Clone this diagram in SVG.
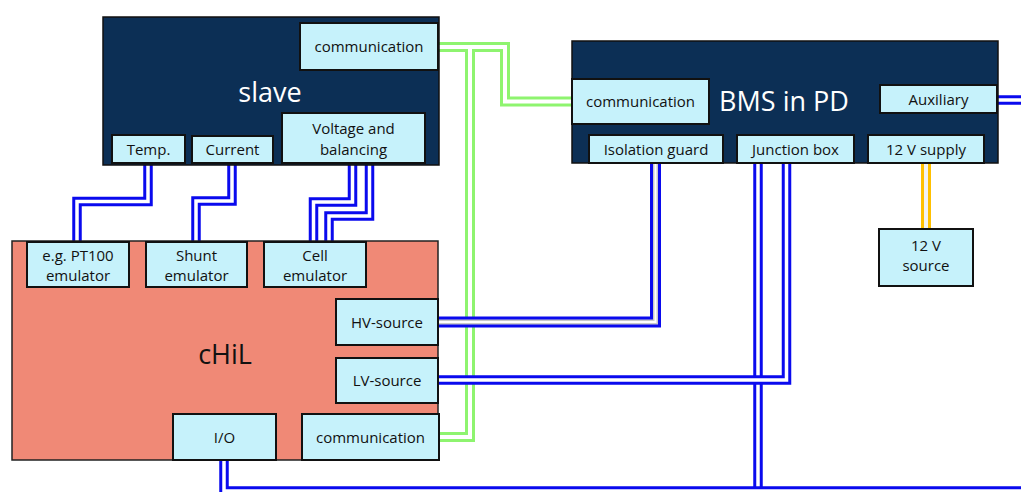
<svg xmlns="http://www.w3.org/2000/svg" xmlns:xlink="http://www.w3.org/1999/xlink" width="1021" height="492" viewBox="0 0 1021 492">
  <style>
    text { font-family: "Open Sans", "Noto Sans", "Liberation Sans", sans-serif; fill: #111; text-anchor: middle; }
    .lbl { font-size: 15px; }
    .big { font-size: 27px; }
    .big-w { fill: #ffffff; }
    .big-d { fill: #111; }
    .host { fill: #0c2f55; stroke: #111; stroke-width: 1.5; }
    .chil { fill: #f08976; stroke: #222; stroke-width: 1.5; }
    .port { fill: #c6f2fb; stroke: #111; stroke-width: 2; }
    .wire { fill: none; stroke-linejoin: miter; stroke-linecap: butt; }
    .blue-o { stroke: #0a0aee; stroke-width: 9.5; }
    .blue-i { stroke: #ffffff; stroke-width: 3.5; }
    .hv-o { stroke: #0a0aee; stroke-width: 11; }
    .hv-m { stroke: #c9c9c9; stroke-width: 5; }
    .hv-i { stroke: #ffffff; stroke-width: 2; }
    .green-o { stroke: #8ef46f; stroke-width: 10; }
    .green-i { stroke: #ffffff; stroke-width: 4; }
    .amber-o { stroke: #ffc000; stroke-width: 10; }
    .amber-i { stroke: #f2f2f2; stroke-width: 4; }
  </style>
  <defs>
    <path id="w-temp" d="M148,160 V201.5 H77 V243"/>
    <path id="w-curr" d="M232,160 V201 H196 V243"/>
    <path id="w-volt-a" d="M352.5,160 V202 H313.5 V243"/>
    <path id="w-volt-b" d="M369.5,160 V216 H329 V243"/>
    <path id="w-com-bms" d="M437,47 H505 V101.5 H573"/>
    <path id="w-com-chil" d="M437,47 H470 V437 H438"/>
    <path id="w-hv" d="M437,322 H655.5 V162"/>
    <path id="w-lv" d="M437,380 H786.5 V160"/>
    <path id="w-io" d="M224,459 V491 H1030"/>
    <path id="w-jb" d="M758,160 V500"/>
    <path id="w-aux" d="M996,100 H1030"/>
    <path id="w-12v" d="M926,162 V230"/>
  </defs>

  <!-- cabling -->
  <g id="connectors">
    <g id="bus-communication">
      <use xlink:href="#w-com-bms" class="wire green-o"/>
      <use xlink:href="#w-com-chil" class="wire green-o"/>
      <use xlink:href="#w-com-bms" class="wire green-i"/>
      <use xlink:href="#w-com-chil" class="wire green-i"/>
    </g>
    <g id="cable-temp">
      <use xlink:href="#w-temp" class="wire blue-o"/>
      <use xlink:href="#w-temp" class="wire blue-i"/>
    </g>
    <g id="cable-current">
      <use xlink:href="#w-curr" class="wire blue-o"/>
      <use xlink:href="#w-curr" class="wire blue-i"/>
    </g>
    <g id="cable-voltage">
      <use xlink:href="#w-volt-a" class="wire blue-o"/>
      <use xlink:href="#w-volt-a" class="wire blue-i"/>
      <use xlink:href="#w-volt-b" class="wire blue-o"/>
      <use xlink:href="#w-volt-b" class="wire blue-i"/>
    </g>
    <g id="cable-hv">
      <use xlink:href="#w-hv" class="wire hv-o"/>
      <use xlink:href="#w-hv" class="wire hv-m"/>
      <use xlink:href="#w-hv" class="wire hv-i"/>
    </g>
    <g id="cable-junction">
      <use xlink:href="#w-jb" class="wire blue-o"/>
      <path d="M758,164 V500" class="wire blue-i"/>
    </g>
    <g id="cable-lv">
      <use xlink:href="#w-lv" class="wire blue-o"/>
      <path d="M786.5,164 V380 H437" class="wire blue-i"/>
    </g>
    <g id="cable-io">
      <use xlink:href="#w-io" class="wire blue-o"/>
      <use xlink:href="#w-io" class="wire blue-i"/>
    </g>
    <g id="cable-aux">
      <use xlink:href="#w-aux" class="wire blue-o"/>
      <use xlink:href="#w-aux" class="wire blue-i"/>
    </g>
    <g id="cable-12v">
      <use xlink:href="#w-12v" class="wire amber-o"/>
      <use xlink:href="#w-12v" class="wire amber-i"/>
    </g>
  </g>

  <!-- slave module -->
  <g id="slave">
    <rect x="103" y="17" width="336" height="148" class="host"/>
    <text x="270" y="101.5" class="big big-w">slave</text>
  </g>
  <g id="slave-communication">
    <rect x="300" y="23" width="138" height="47" class="port"/>
    <text x="369" y="52" class="lbl">communication</text>
  </g>
  <g id="slave-temp">
    <rect x="112" y="135" width="73" height="28" class="port"/>
    <text x="148.5" y="154.5" class="lbl">Temp.</text>
  </g>
  <g id="slave-current">
    <rect x="192" y="136" width="81" height="27" class="port"/>
    <text x="232.5" y="155" class="lbl">Current</text>
  </g>
  <g id="slave-voltage">
    <rect x="282" y="113" width="143" height="50" class="port"/>
    <text x="353.5" y="134" class="lbl">Voltage and</text>
    <text x="353.5" y="155" class="lbl">balancing</text>
  </g>

  <!-- BMS in PD -->
  <g id="bms">
    <rect x="572" y="41" width="426" height="122" class="host"/>
    <text x="784" y="111" class="big big-w">BMS in PD</text>
  </g>
  <g id="bms-communication">
    <rect x="572" y="79" width="137" height="45" class="port"/>
    <text x="640.5" y="107" class="lbl">communication</text>
  </g>
  <g id="bms-auxiliary">
    <rect x="880" y="85" width="117" height="28" class="port"/>
    <text x="938.5" y="104.5" class="lbl">Auxiliary</text>
  </g>
  <g id="bms-isolation">
    <rect x="589" y="135" width="134" height="28" class="port"/>
    <text x="656" y="154.5" class="lbl">Isolation guard</text>
  </g>
  <g id="bms-junction">
    <rect x="737" y="135" width="117" height="28" class="port"/>
    <text x="795.5" y="154.5" class="lbl">Junction box</text>
  </g>
  <g id="bms-12v-supply">
    <rect x="868" y="135" width="116" height="28" class="port"/>
    <text x="926" y="154.5" class="lbl">12 V supply</text>
  </g>

  <!-- 12 V source -->
  <g id="source-12v">
    <rect x="879" y="229" width="94" height="57" class="port"/>
    <text x="926" y="251" class="lbl">12 V</text>
    <text x="926" y="271" class="lbl">source</text>
  </g>

  <!-- cHiL -->
  <g id="chil">
    <rect x="12" y="241" width="426" height="219" class="chil"/>
    <text x="225" y="364" class="big big-d">cHiL</text>
  </g>
  <g id="chil-pt100">
    <rect x="27" y="242" width="102" height="45" class="port"/>
    <text x="78" y="261" class="lbl">e.g. PT100</text>
    <text x="78" y="281" class="lbl">emulator</text>
  </g>
  <g id="chil-shunt">
    <rect x="146" y="242" width="101" height="45" class="port"/>
    <text x="196.5" y="261" class="lbl">Shunt</text>
    <text x="196.5" y="281" class="lbl">emulator</text>
  </g>
  <g id="chil-cell">
    <rect x="264" y="242" width="102" height="45" class="port"/>
    <text x="315" y="261" class="lbl">Cell</text>
    <text x="315" y="281" class="lbl">emulator</text>
  </g>
  <g id="chil-hv">
    <rect x="336" y="299" width="102" height="46" class="port"/>
    <text x="387" y="327.5" class="lbl">HV-source</text>
  </g>
  <g id="chil-lv">
    <rect x="336" y="358" width="102" height="45" class="port"/>
    <text x="387" y="386" class="lbl">LV-source</text>
  </g>
  <g id="chil-io">
    <rect x="173" y="414" width="103" height="46" class="port"/>
    <text x="224.5" y="442.5" class="lbl">I/O</text>
  </g>
  <g id="chil-communication">
    <rect x="302" y="414" width="137" height="46" class="port"/>
    <text x="370.5" y="442.5" class="lbl">communication</text>
  </g>
</svg>
